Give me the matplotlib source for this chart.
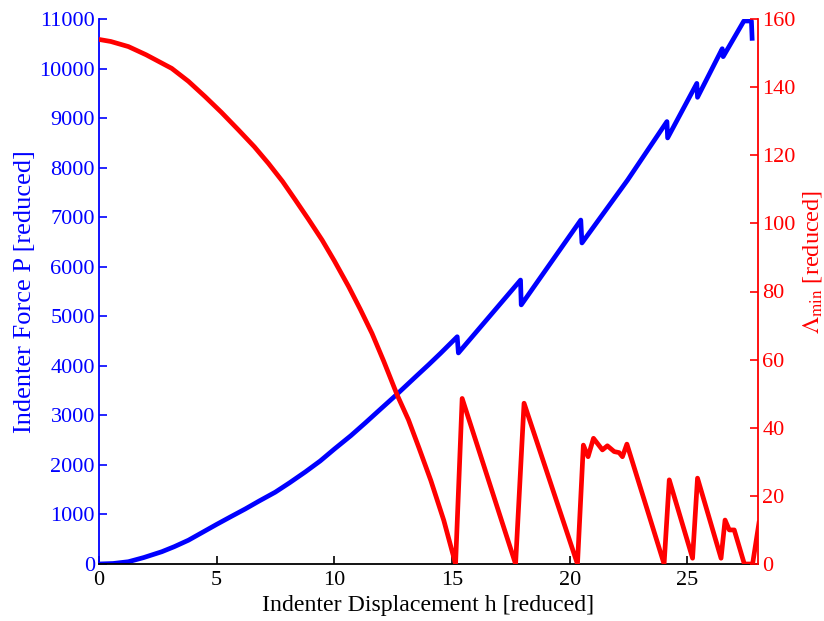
"""Indenter force P and Lambda_min vs indenter displacement h (two y axes)."""

import matplotlib
matplotlib.use("Agg")
import matplotlib.pyplot as plt

OUT_PNG = "out.png"

# blue curve: indenter force P [reduced]
H_FORCE = [0.0, 0.6, 1.25, 1.9, 2.67, 3.2, 3.8, 4.4, 5.0, 5.6, 6.21, 6.8, 7.49, 8.1,
           8.77, 9.4, 10.0, 10.7, 11.32, 11.9, 12.6, 13.5, 14.0, 14.51,
           15.22, 15.27, 17.91, 17.94, 20.47, 20.52, 22.46, 24.13, 24.16,
           25.40, 25.43, 26.48, 26.52, 27.40, 27.72, 27.75]
FORCE = [0, 10, 46, 130, 248, 350, 480, 640, 800, 955, 1110, 1270, 1450, 1640,
         1860, 2080, 2320, 2590, 2850, 3100, 3400, 3800, 4020, 4252,
         4587, 4260, 5731, 5230, 6942, 6480, 7750, 8930, 8600,
         9700, 9420, 10400, 10240, 10960, 10960, 10610]

# red curve: Lambda_min [reduced]
H_LAMBDA = [0.0, 0.5, 1.25, 2.0, 3.09, 3.8, 4.51, 5.2, 5.93, 6.6, 7.2, 7.8, 8.34, 8.9,
            9.48, 10.0, 10.61, 11.1, 11.6, 12.1, 12.67, 13.15, 13.6, 14.1, 14.65,
            15.15, 15.43, 17.7, 18.06, 20.33, 20.58, 20.78, 21.01, 21.39,
            21.6, 21.89, 22.1, 22.24, 22.43, 24.01, 24.23, 25.22, 25.43, 26.43,
            26.6, 26.78, 26.99, 27.42, 27.77, 28.04]
LAMBDA = [154.0, 153.4, 151.9, 149.5, 145.5, 141.7, 137.2, 132.6, 127.4, 122.5, 117.6,
          112.3, 106.9, 101.2, 95.1, 89.0, 81.4, 74.8, 67.7, 59.5, 49.6, 42.3, 34.0,
          24.5, 12.8, 0.0, 48.6, 0.0, 47.2, 0.0, 34.9, 31.5, 36.9, 33.5,
          34.7, 33.0, 32.7, 31.5, 35.2, 0.0, 24.7, 1.7, 25.2, 1.7,
          12.9, 10.0, 10.0, 0.0, 0.0, 12.0]

X_TICKS = [0, 5, 10, 15, 20, 25]
P_TICKS = list(range(0, 11001, 1000))
L_TICKS = list(range(0, 161, 20))


def main() -> None:
    plt.rcParams["font.family"] = ["Liberation Serif", "DejaVu Serif"]
    plt.rcParams["mathtext.fontset"] = "stix"

    fig = plt.figure(figsize=(8.24, 6.21), dpi=100)
    ax = fig.add_axes([99 / 824, 57 / 621, 659 / 824, 545 / 621])
    ax2 = ax.twinx()

    ax.plot(H_FORCE, FORCE, color="#0000ff", lw=3.4, solid_joinstyle="round")
    ax2.plot(H_LAMBDA, LAMBDA, color="#ff0000", lw=3.4, solid_joinstyle="round")

    ax.set_xlim(0, 28)
    ax.set_ylim(0, 11000)
    ax2.set_ylim(0, 160)
    ax.set_xticks(X_TICKS)
    ax.set_yticks(P_TICKS)
    ax2.set_yticks(L_TICKS)

    for a in (ax, ax2):
        a.spines["top"].set_visible(False)
    ax.spines["right"].set_visible(False)
    ax2.spines["left"].set_visible(False)
    ax2.spines["bottom"].set_visible(False)
    ax.spines["left"].set_color("#0000ff")
    ax.spines["bottom"].set_color("black")
    ax2.spines["right"].set_color("#ff0000")
    for s in (ax.spines["left"], ax.spines["bottom"], ax2.spines["right"]):
        s.set_linewidth(1.3)

    ax.tick_params(axis="x", direction="in", length=6, width=1.2, colors="black",
                   labelsize=16, pad=5)
    ax.tick_params(axis="y", direction="in", length=6, width=1.2, colors="#0000ff",
                   labelsize=16, pad=3)
    ax2.tick_params(axis="y", direction="in", length=6, width=1.2, colors="#ff0000",
                    labelsize=16, pad=3)

    ax.set_xlabel("Indenter Displacement h [reduced]", fontsize=17.2, labelpad=4)
    ax.set_ylabel("Indenter Force P [reduced]", fontsize=19, color="#0000ff", labelpad=2)
    ax2.set_ylabel(r"$\Lambda_{\mathrm{min}}$ [reduced]", fontsize=17.5, color="#ff0000",
                   rotation=90)
    ax2.yaxis.set_label_coords(1.065, 0.555)

    fig.savefig(OUT_PNG, dpi=100)
    plt.close(fig)


if __name__ == "__main__":
    main()
